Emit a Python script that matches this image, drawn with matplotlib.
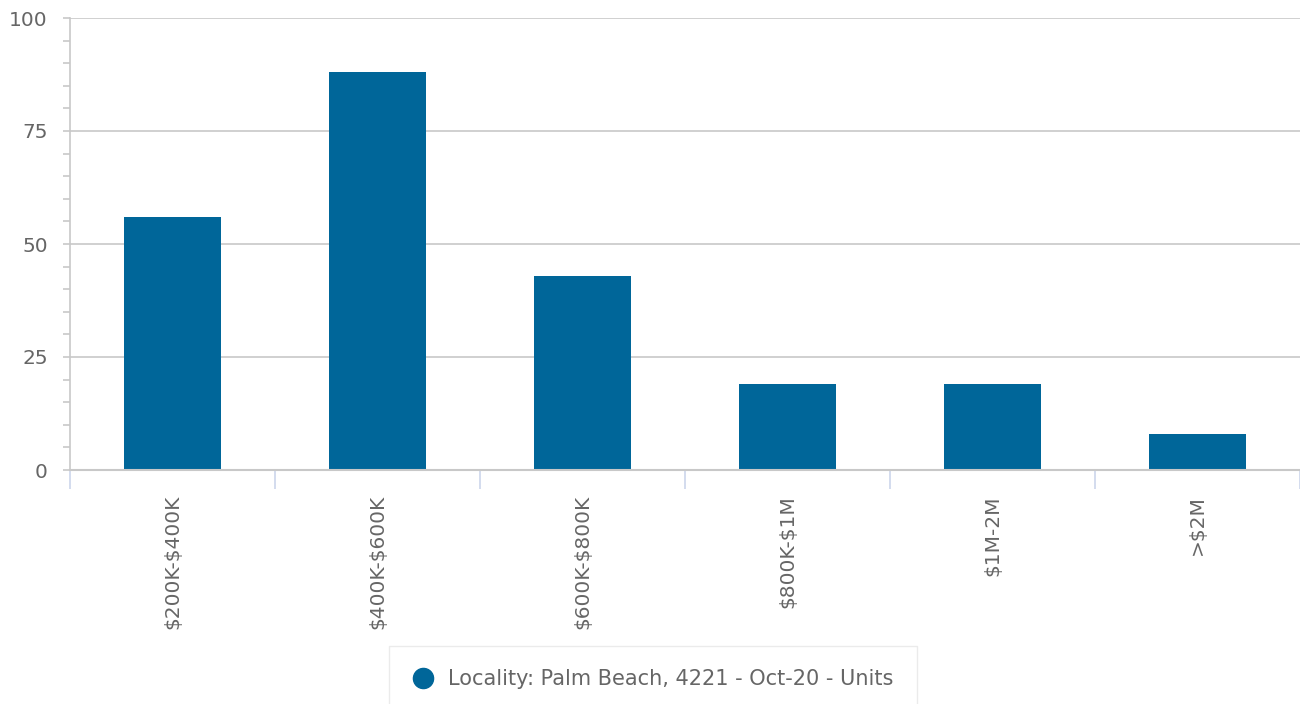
import numpy as np
import matplotlib
matplotlib.use("Agg")
import matplotlib.pyplot as plt
from matplotlib.lines import Line2D

plt.rcParams["text.parse_math"] = False

categories = ["$200K-$400K", "$400K-$600K", "$600K-$800K", "$800K-$1M", "$1M-2M", ">$2M"]
units = [56, 88, 43, 19, 19, 8]
series_name = "Locality: Palm Beach, 4221 - Oct-20 - Units"
y_ticks = [0, 25, 50, 75, 100]

bar_color = "#006699"
grid_color = "#c8c8c8"
text_color = "#666666"

fig = plt.figure(figsize=(13, 7.04), dpi=100)
ax = fig.add_axes([70 / 1300, 1 - 470 / 704, 1230 / 1300, 452 / 704])

x = np.arange(len(categories))
ax.bar(x, units, width=0.47, color=bar_color, zorder=3)

ax.set_xlim(-0.5, len(categories) - 0.5)
ax.set_ylim(0, 100)

ax.set_yticks(y_ticks)
ax.set_yticks(np.arange(0, 101, 5), minor=True)
ax.yaxis.grid(True, which="major", color=grid_color, linewidth=1.2, zorder=0)
ax.tick_params(axis="y", which="both", length=5, width=1.2, color=grid_color,
               labelsize=14.5, labelcolor=text_color, pad=11)

ax.set_xticks(x)
ax.set_xticklabels(categories, rotation=90, va="top", ha="center")
ax.set_xticks(np.arange(-0.5, len(categories), 1), minor=True)
ax.tick_params(axis="x", which="major", length=0, labelsize=14.5,
               labelcolor=text_color, pad=18)
ax.tick_params(axis="x", which="minor", length=13.5, width=1.2, color="#ccd6eb")

for side in ["top", "right"]:
    ax.spines[side].set_visible(False)
ax.spines["left"].set_color(grid_color)
ax.spines["left"].set_linewidth(1.2)
ax.spines["bottom"].set_color(grid_color)
ax.spines["bottom"].set_linewidth(1.5)
ax.spines["bottom"].set_zorder(4)

# legend box sits at the bottom, partly cut off like the original
handle = Line2D([], [], marker="o", linestyle="none", markersize=14.5,
                markerfacecolor=bar_color, markeredgecolor=bar_color)
leg = fig.legend([handle], [series_name], loc="upper center",
                 bbox_to_anchor=(653 / 1300, 1 - 646 / 704), frameon=True,
                 fancybox=False, fontsize=15, handletextpad=0.72,
                 borderpad=1.1, handlelength=1.0, labelcolor=text_color,
                 borderaxespad=0)
leg.get_frame().set_edgecolor("#e6e6e6")
leg.get_frame().set_linewidth(1.0)

fig.savefig("out.png", dpi=100)
